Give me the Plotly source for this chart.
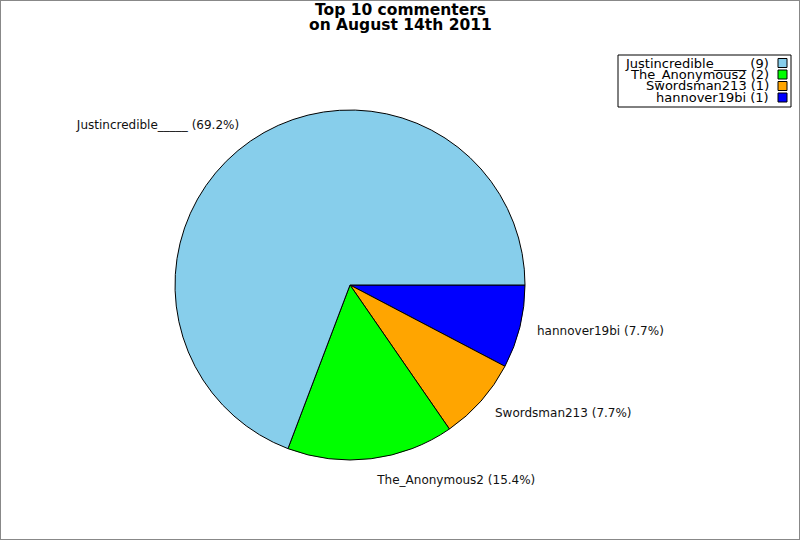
import plotly.graph_objects as go

names = ["Justincredible_____", "The_Anonymous2", "Swordsman213", "hannover19bi"]
counts = [9, 2, 1, 1]
colors = ["#87CEEB", "#00FF00", "#FFA500", "#0000FF"]
title_lines = ["Top 10 commenters", "on August 14th 2011"]

font_name = "DejaVu Sans"
W, H = 800, 540
cx, cy, rad = 350, 285, 175   # pie centre / radius in pixels
label_rad = rad * 1.08         # labels sit a bit outside the pie


def dom(r):
    return dict(x=[(cx - r) / W, (cx + r) / W], y=[1 - (cy + r) / H, 1 - (cy - r) / H])


# drawn clockwise in reverse so the first name starts at 3 o'clock going anticlockwise
common = dict(labels=names[::-1], values=counts[::-1], sort=False,
              direction="clockwise", rotation=90, showlegend=False)

fig = go.Figure()
fig.add_pie(
    **common,
    marker=dict(colors=colors[::-1], line=dict(color="black", width=1)),
    textinfo="none",
    hoverinfo="label+value+percent",
    domain=dom(rad),
)
# transparent, slightly larger copy that only carries the slice labels
fig.add_pie(
    **common,
    marker=dict(colors=["rgba(0,0,0,0)"] * len(names), line=dict(width=0)),
    textposition="outside",
    texttemplate="%{label} (%{percent:.1%})",
    textfont=dict(family=font_name, size=12, color="#111111"),
    hoverinfo="skip",
    domain=dom(label_rad),
)

# legend box drawn by hand: text right-aligned, swatch on the right
shapes = [
    dict(type="rect", xref="paper", yref="paper", x0=0, x1=1, y0=0, y1=1,
         line=dict(color="#888888", width=2)),
    dict(type="rect", xref="paper", yref="paper",
         x0=618 / W, x1=791 / W, y0=1 - 107 / H, y1=1 - 55 / H,
         line=dict(color="black", width=1), fillcolor="white"),
]
annotations = []
row_y = [63, 74.5, 86, 97.5]
for name, cnt, col, ry in zip(names, counts, colors, row_y):
    annotations.append(dict(
        x=771 / W, y=1 - ry / H, xref="paper", yref="paper",
        text=f"{name} ({cnt})", showarrow=False, xanchor="right", yanchor="middle",
        font=dict(family=font_name, size=13, color="black"),
    ))
    shapes.append(dict(
        type="rect", xref="paper", yref="paper",
        x0=778 / W, x1=787 / W, y0=1 - (ry + 4.5) / H, y1=1 - (ry - 4.5) / H,
        line=dict(color="black", width=1), fillcolor=col,
    ))

# two-line bold title, lines set close together
for line, ty in zip(title_lines, [10, 25]):
    annotations.append(dict(
        x=0.5, y=1 - ty / H, xref="paper", yref="paper",
        text=f"<b>{line}</b>", showarrow=False, xanchor="center", yanchor="middle",
        font=dict(family=font_name, size=15.5, color="black"),
    ))

fig.update_layout(
    width=W,
    height=H,
    margin=dict(l=0, r=0, t=0, b=0),
    paper_bgcolor="white",
    shapes=shapes,
    annotations=annotations,
)

fig.write_html(
    "out.html",
    config={"displayModeBar": False},
    post_script="document.body.style.margin='0';document.body.style.overflow='hidden';",
)
